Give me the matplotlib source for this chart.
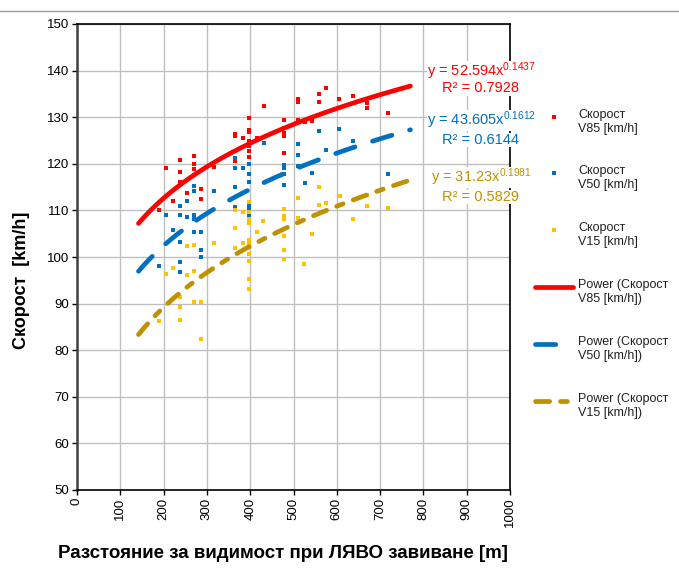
import numpy
from matplotlib import pyplot
from matplotlib.lines import Line2D

pyplot.rcParams['font.family'] = ['Liberation Sans', 'DejaVu Sans']
pyplot.rcParams['mathtext.fontset'] = 'custom'
pyplot.rcParams['mathtext.rm'] = 'Liberation Sans'
pyplot.rcParams['mathtext.it'] = 'Liberation Sans:italic'

# V85 points (distance m, speed km/h)
v85_x = [190, 205, 222, 238, 238, 238, 253, 271, 271, 271, 271, 271, 286, 286,
         317, 365, 365, 365, 383, 398, 398, 398, 398, 398, 398, 398, 415, 432,
         478, 478, 478, 478, 478, 510, 510, 510, 527, 543, 559, 559, 574, 606,
         637, 670, 670, 719]
v85_y = [110.1, 119.2, 112.1, 120.8, 118.3, 116.2, 113.7, 121.7, 119.9, 118.9, 117.6, 115.3, 114.6, 112.4,
         119.3, 126.5, 126.0, 120.5, 125.5, 129.8, 127.3, 126.8, 125.0, 123.8, 122.7, 121.5, 125.6, 132.5,
         129.3, 127.6, 126.7, 126.0, 122.3, 133.8, 133.3, 129.4, 128.9, 129.2, 135.0, 133.3, 136.2, 134.0,
         134.6, 133.1, 131.9, 130.8]

# V50 points
v50_x = [190, 205, 222, 239, 239, 239, 239, 239, 253, 255, 271, 271, 271, 271, 271,
         286, 286, 286, 317, 365, 365, 365, 365, 383, 398, 398, 398, 398, 398, 398,
         398, 432, 478, 478, 478, 478, 478, 510, 510, 510, 527, 543, 559, 574, 606,
         637, 719]
v50_y = [98.1, 109.1, 105.8, 111.0, 109.0, 103.2, 99.0, 96.8, 112.1, 108.5, 115.2, 114.2, 109.1, 108.2, 105.4,
         105.4, 101.4, 100.1, 114.2, 121.2, 119.2, 115.0, 110.8, 119.2, 119.9, 117.9, 116.0, 111.0, 110.0, 109.0,
         107.9, 124.4, 119.7, 119.1, 117.9, 115.5, 110.2, 124.2, 121.9, 119.5, 115.8, 118.1, 127.1, 122.9, 127.4,
         124.8, 117.9]

# V15 points
v15_x = [190, 205, 222, 238, 238, 238, 254, 254, 271, 271, 271, 287, 287, 317,
         366, 366, 366, 383, 383, 398, 398, 398, 398, 398, 398, 398, 398, 398, 398,
         415, 430, 478, 478, 478, 478, 478, 478, 510, 510, 525, 543, 558, 558, 574,
         607, 637, 670, 670, 719]
v15_y = [86.2, 96.4, 97.6, 91.5, 89.2, 86.4, 102.4, 96.1, 102.5, 96.9, 90.4, 90.4, 82.3, 103.1,
         110.1, 106.2, 101.9, 109.7, 102.9, 111.7, 109.6, 108.1, 107.4, 103.6, 102.9, 100.6, 99.1, 95.3, 93.1,
         105.4, 107.8, 110.2, 108.8, 108.1, 104.4, 101.5, 99.5, 112.6, 108.3, 98.6, 104.9, 115.1, 111.2, 111.5,
         113.1, 108.1, 113.3, 110.9, 110.5]

# power trend lines y = a * x^b, shown from x_start to x_end
trend_a = [52.594, 43.605, 31.23]
trend_b = [0.1437, 0.1612, 0.1981]
trend_r2 = ['0.7928', '0.6144', '0.5829']
trend_range = [142, 770]

x_ticks = list(range(0, 1001, 100))
y_ticks = list(range(50, 151, 10))

W, H = 679, 570


def fx(px):
    return px / W


def fy(py):
    return 1 - py / H


point_colors = ['#ff0000', '#0070c0', '#ffc000']
line_colors = ['#ff0000', '#0070c0', '#bf9000']
line_dashes = [None, (4.3, 3.9), (3.0, 2.3, 1.45, 2.3)]

figure = pyplot.figure(figsize=(W / 100, H / 100), dpi=100)
ax = figure.add_axes([fx(77), fy(490), fx(510) - fx(77), fy(24) - fy(490)])

series = [(v85_x, v85_y), (v50_x, v50_y), (v15_x, v15_y)]
for (sx, sy), color in zip(series, point_colors):
    ax.plot(sx, sy, 's', color=color, markersize=2.4, markeredgewidth=0, zorder=3)

tx = numpy.linspace(trend_range[0], trend_range[1], 200)
for a, b, color, dash in zip(trend_a, trend_b, line_colors, line_dashes):
    line, = ax.plot(tx, a * tx ** b, color=color, linewidth=3.4,
                    solid_capstyle='round', dash_capstyle='round', zorder=4)
    if dash is not None:
        line.set_dashes(dash)

ax.set_xlim(0, 1000)
ax.set_ylim(50, 150)
ax.set_xticks(x_ticks)
ax.set_yticks(y_ticks)
ax.tick_params(axis='x', labelrotation=90, length=3.5, width=1, labelsize=9.5, pad=2)
ax.tick_params(axis='y', length=3.5, width=1, labelsize=9.5, pad=2)
ax.grid(True, color='#bfbfbf', linewidth=1)
ax.set_axisbelow(True)
for side in ['top', 'right', 'bottom']:
    ax.spines[side].set_color('black')
    ax.spines[side].set_linewidth(1.2)
ax.spines['left'].set_color('#404040')
ax.spines['left'].set_linewidth(1.8)

figure.text(fx(22), fy(280), 'Скорост  [km/h]', rotation=90, ha='center', va='center',
            fontsize=13, fontweight='bold')
figure.text(fx(283), fy(553), 'Разстояние за видимост при ЛЯВО завиване [m]',
            ha='center', va='center', fontsize=13.5, fontweight='bold')

# equation labels
eq_rows = [(71.5, 88.5), (120.5, 140), (177.5, 196.5)]
for a, b, r2, color, rows in zip(trend_a, trend_b, trend_r2, line_colors, eq_rows):
    box = dict(facecolor='white', edgecolor='none', pad=0)
    figure.text(fx(481), fy(rows[0]), f'y = {a}x$^{{{b}}}$', ha='center', va='center',
                fontsize=10.5, color=color, bbox=box, zorder=10)
    figure.text(fx(481), fy(rows[1]), f'R² = {r2}', ha='center', va='center',
                fontsize=10.5, color=color, bbox=box, zorder=10)

# legend
legend_y = [117, 173, 230, 287, 344, 401]
legend_text = ['Скорост\nV85 [km/h]', 'Скорост\nV50 [km/h]', 'Скорост\nV15 [km/h]',
               'Power (Скорост\nV85 [km/h])', 'Power (Скорост\nV50 [km/h])',
               'Power (Скорост\nV15 [km/h])']
for i, (py, label) in enumerate(zip(legend_y, legend_text)):
    if i < 3:
        handle = Line2D([fx(554)], [fy(py)], marker='s', linestyle='none',
                        color=point_colors[i], markersize=2.4, markeredgewidth=0,
                        transform=figure.transFigure)
    else:
        handle = Line2D([fx(535), fx(573)], [fy(py), fy(py)], color=line_colors[i - 3],
                        linewidth=3.4, solid_capstyle='round', dash_capstyle='round',
                        transform=figure.transFigure)
        if line_dashes[i - 3] is not None:
            handle.set_dashes(line_dashes[i - 3])
    figure.add_artist(handle)
    figure.text(fx(578), fy(py - 8), label, ha='left', va='top', fontsize=9,
                linespacing=1.25, color='#222222')

figure.add_artist(Line2D([0, 1], [fy(11), fy(11)], color='#a0a0a0', linewidth=1,
                         transform=figure.transFigure))

figure.savefig('out.png', dpi=100)
